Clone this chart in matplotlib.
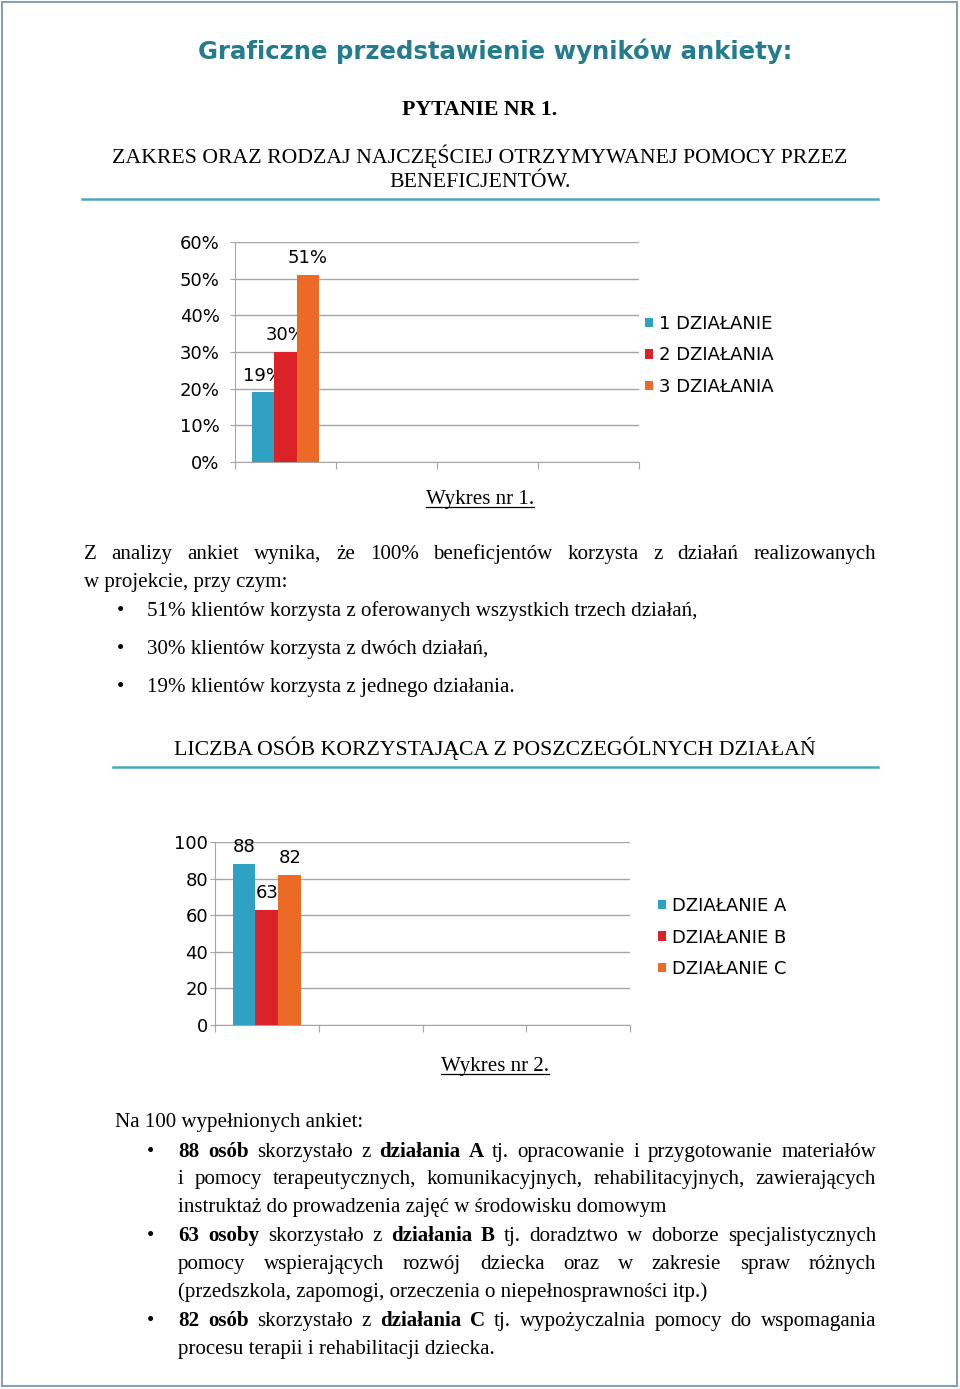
import matplotlib
matplotlib.use('Agg')
import matplotlib.pyplot as plt
from matplotlib.patches import Rectangle

SERIF = 'Liberation Serif'
SANS = 'DejaVu Sans'

# wykres 1
labels1 = ['1 DZIAŁANIE', '2 DZIAŁANIA', '3 DZIAŁANIA']
values1 = [19, 30, 51]
# wykres 2
labels2 = ['DZIAŁANIE A', 'DZIAŁANIE B', 'DZIAŁANIE C']
values2 = [88, 63, 82]
colors = ['#2fa1c3', '#dc2229', '#ec6a25']

W, H = 960, 1389
BODY = 15.1
HEAD = 15.7
fig = plt.figure(figsize=(W / 100, H / 100), dpi=100)
ov = fig.add_axes([0, 0, 1, 1])
ov.set_xlim(0, W)
ov.set_ylim(H, 0)
ov.axis('off')
rend = fig.canvas.get_renderer()

ov.add_patch(Rectangle((2, 2), 955, 1384, fill=False, ec='#8aa0ad', lw=1.5))


def words_of(line):
    out = []
    for k, seg in enumerate(line.split('**')):
        for w in seg.split():
            out.append((w, 'bold' if k % 2 else 'normal'))
    return out


def put_line(y, x0, line, x1=None, size=BODY):
    if x1 is None and '**' not in line:
        ov.text(x0, y, line, fontsize=size, family=SERIF, va='baseline', ha='left')
        return
    ws = words_of(line)
    arts = [ov.text(0, y, w, fontsize=size, fontweight=b, family=SERIF,
                    va='baseline', ha='left') for w, b in ws]
    widths = [a.get_window_extent(rend).width for a in arts]
    if x1 is None or len(arts) < 2:
        gap = size * 0.25 * 100 / 72
    else:
        gap = (x1 - x0 - sum(widths)) / (len(arts) - 1)
    x = x0
    for a, w in zip(arts, widths):
        a.set_x(x)
        x += w + gap


def bullet(x, y):
    ov.text(x, y, '•', fontsize=BODY, family=SERIF, ha='center', va='baseline')


def underlined(xc, y, s, size=BODY):
    t = ov.text(xc, y, s, fontsize=size, family=SERIF, ha='center', va='baseline')
    w = t.get_window_extent(rend).width
    ov.plot([xc - w / 2, xc + w / 2], [y + 3, y + 3], color='black', lw=0.9)


# naglowki
ov.text(495, 59, 'Graficzne przedstawienie wyników ankiety:', fontsize=17.6,
        fontweight='bold', family=SANS, color='#247c8c', ha='center', va='baseline')
ov.text(480, 115, 'PYTANIE NR 1.', fontsize=HEAD, fontweight='bold', family=SERIF,
        ha='center', va='baseline')
ov.text(480, 163, 'ZAKRES ORAZ RODZAJ NAJCZĘŚCIEJ OTRZYMYWANEJ POMOCY PRZEZ',
        fontsize=HEAD, family=SERIF, ha='center', va='baseline')
ov.text(480, 187, 'BENEFICJENTÓW.', fontsize=HEAD, family=SERIF, ha='center', va='baseline')
ov.plot([82, 878], [199, 199], color='#4aa7c3', lw=1.8)

underlined(480, 504, 'Wykres nr 1.')

put_line(559, 84, 'Z analizy ankiet wynika, że 100% beneficjentów korzysta z działań realizowanych', 876)
put_line(587, 84, 'w projekcie, przy czym:')
for y, s in [(616, '51% klientów korzysta z oferowanych wszystkich trzech działań,'),
             (654, '30% klientów korzysta z dwóch działań,'),
             (692, '19% klientów korzysta z jednego działania.')]:
    bullet(120, y)
    put_line(y, 147, s)

ov.text(495, 755, 'LICZBA OSÓB KORZYSTAJĄCA Z POSZCZEGÓLNYCH DZIAŁAŃ', fontsize=HEAD,
        family=SERIF, ha='center', va='baseline')
ov.plot([113, 878], [767, 767], color='#4aa7c3', lw=1.8)

underlined(495, 1071, 'Wykres nr 2.')

put_line(1127, 115, 'Na 100 wypełnionych ankiet:')
body = [
    (1157, '**88 osób** skorzystało z **działania A** tj. opracowanie i przygotowanie materiałów', True, True),
    (1184, 'i pomocy terapeutycznych, komunikacyjnych, rehabilitacyjnych, zawierających', True, False),
    (1212, 'instruktaż do prowadzenia zajęć w środowisku domowym', False, False),
    (1241, '**63 osoby** skorzystało z **działania B** tj. doradztwo w doborze specjalistycznych', True, True),
    (1269, 'pomocy wspierających rozwój dziecka oraz w zakresie spraw różnych', True, False),
    (1297, '(przedszkola, zapomogi, orzeczenia o niepełnosprawności itp.)', False, False),
    (1326, '**82 osób** skorzystało z **działania C** tj. wypożyczalnia pomocy do wspomagania', True, True),
    (1354, 'procesu terapii i rehabilitacji dziecka.', False, False),
]
for y, s, just, first in body:
    if first:
        bullet(151, y)
    put_line(y, 178, s, 876 if just else None)


def chart(rect, labels, values, ymax, step, fmt, pad, leg_xy):
    ax = fig.add_axes(rect)
    ax.patch.set_alpha(0)
    bw = 0.22
    for i, (lab, v) in enumerate(zip(labels, values)):
        x = (i - 1) * bw
        ax.bar(x, v, bw, color=colors[i], label=lab, zorder=3)
        ax.annotate(fmt.format(v), (x, v), xytext=(0, 12), textcoords='offset points',
                    ha='center', va='center', fontsize=13, family=SANS)
    ax.set_xlim(-0.5, 3.5)
    ax.set_ylim(0, ymax)
    ticks = list(range(0, ymax + 1, step))
    ax.set_yticks(ticks)
    ax.set_yticklabels([fmt.format(t) for t in ticks], family=SANS)
    ax.set_xticks([-0.5, 0.5, 1.5, 2.5, 3.5])
    ax.set_xticklabels([])
    ax.grid(axis='y', color='#a6a6a6', lw=1, zorder=0)
    ax.set_axisbelow(True)
    for s in ['top', 'right']:
        ax.spines[s].set_visible(False)
    for s in ['left', 'bottom']:
        ax.spines[s].set_color('#a6a6a6')
    ax.tick_params(axis='x', length=5, color='#a6a6a6', direction='out')
    ax.tick_params(axis='y', length=3.5, color='#a6a6a6', direction='out', pad=pad, labelsize=13)
    ax.legend(loc='center left', bbox_to_anchor=leg_xy, bbox_transform=fig.transFigure,
              frameon=False, prop={'family': SANS, 'size': 13}, handlelength=0.45,
              handleheight=0.45, handletextpad=0.3, labelspacing=0.75,
              borderpad=0, borderaxespad=0)
    return ax


chart([235 / W, 1 - 462 / H, (639 - 235) / W, (462 - 242) / H],
      labels1, values1, 60, 10, '{}%', 7.5, (645 / W, 1 - 355.5 / H))
chart([215 / W, 1 - 1025 / H, (630 - 215) / W, (1025 - 842) / H],
      labels2, values2, 100, 20, '{}', 1.5, (658 / W, 1 - 937.5 / H))

plt.savefig('out.png', dpi=100)
